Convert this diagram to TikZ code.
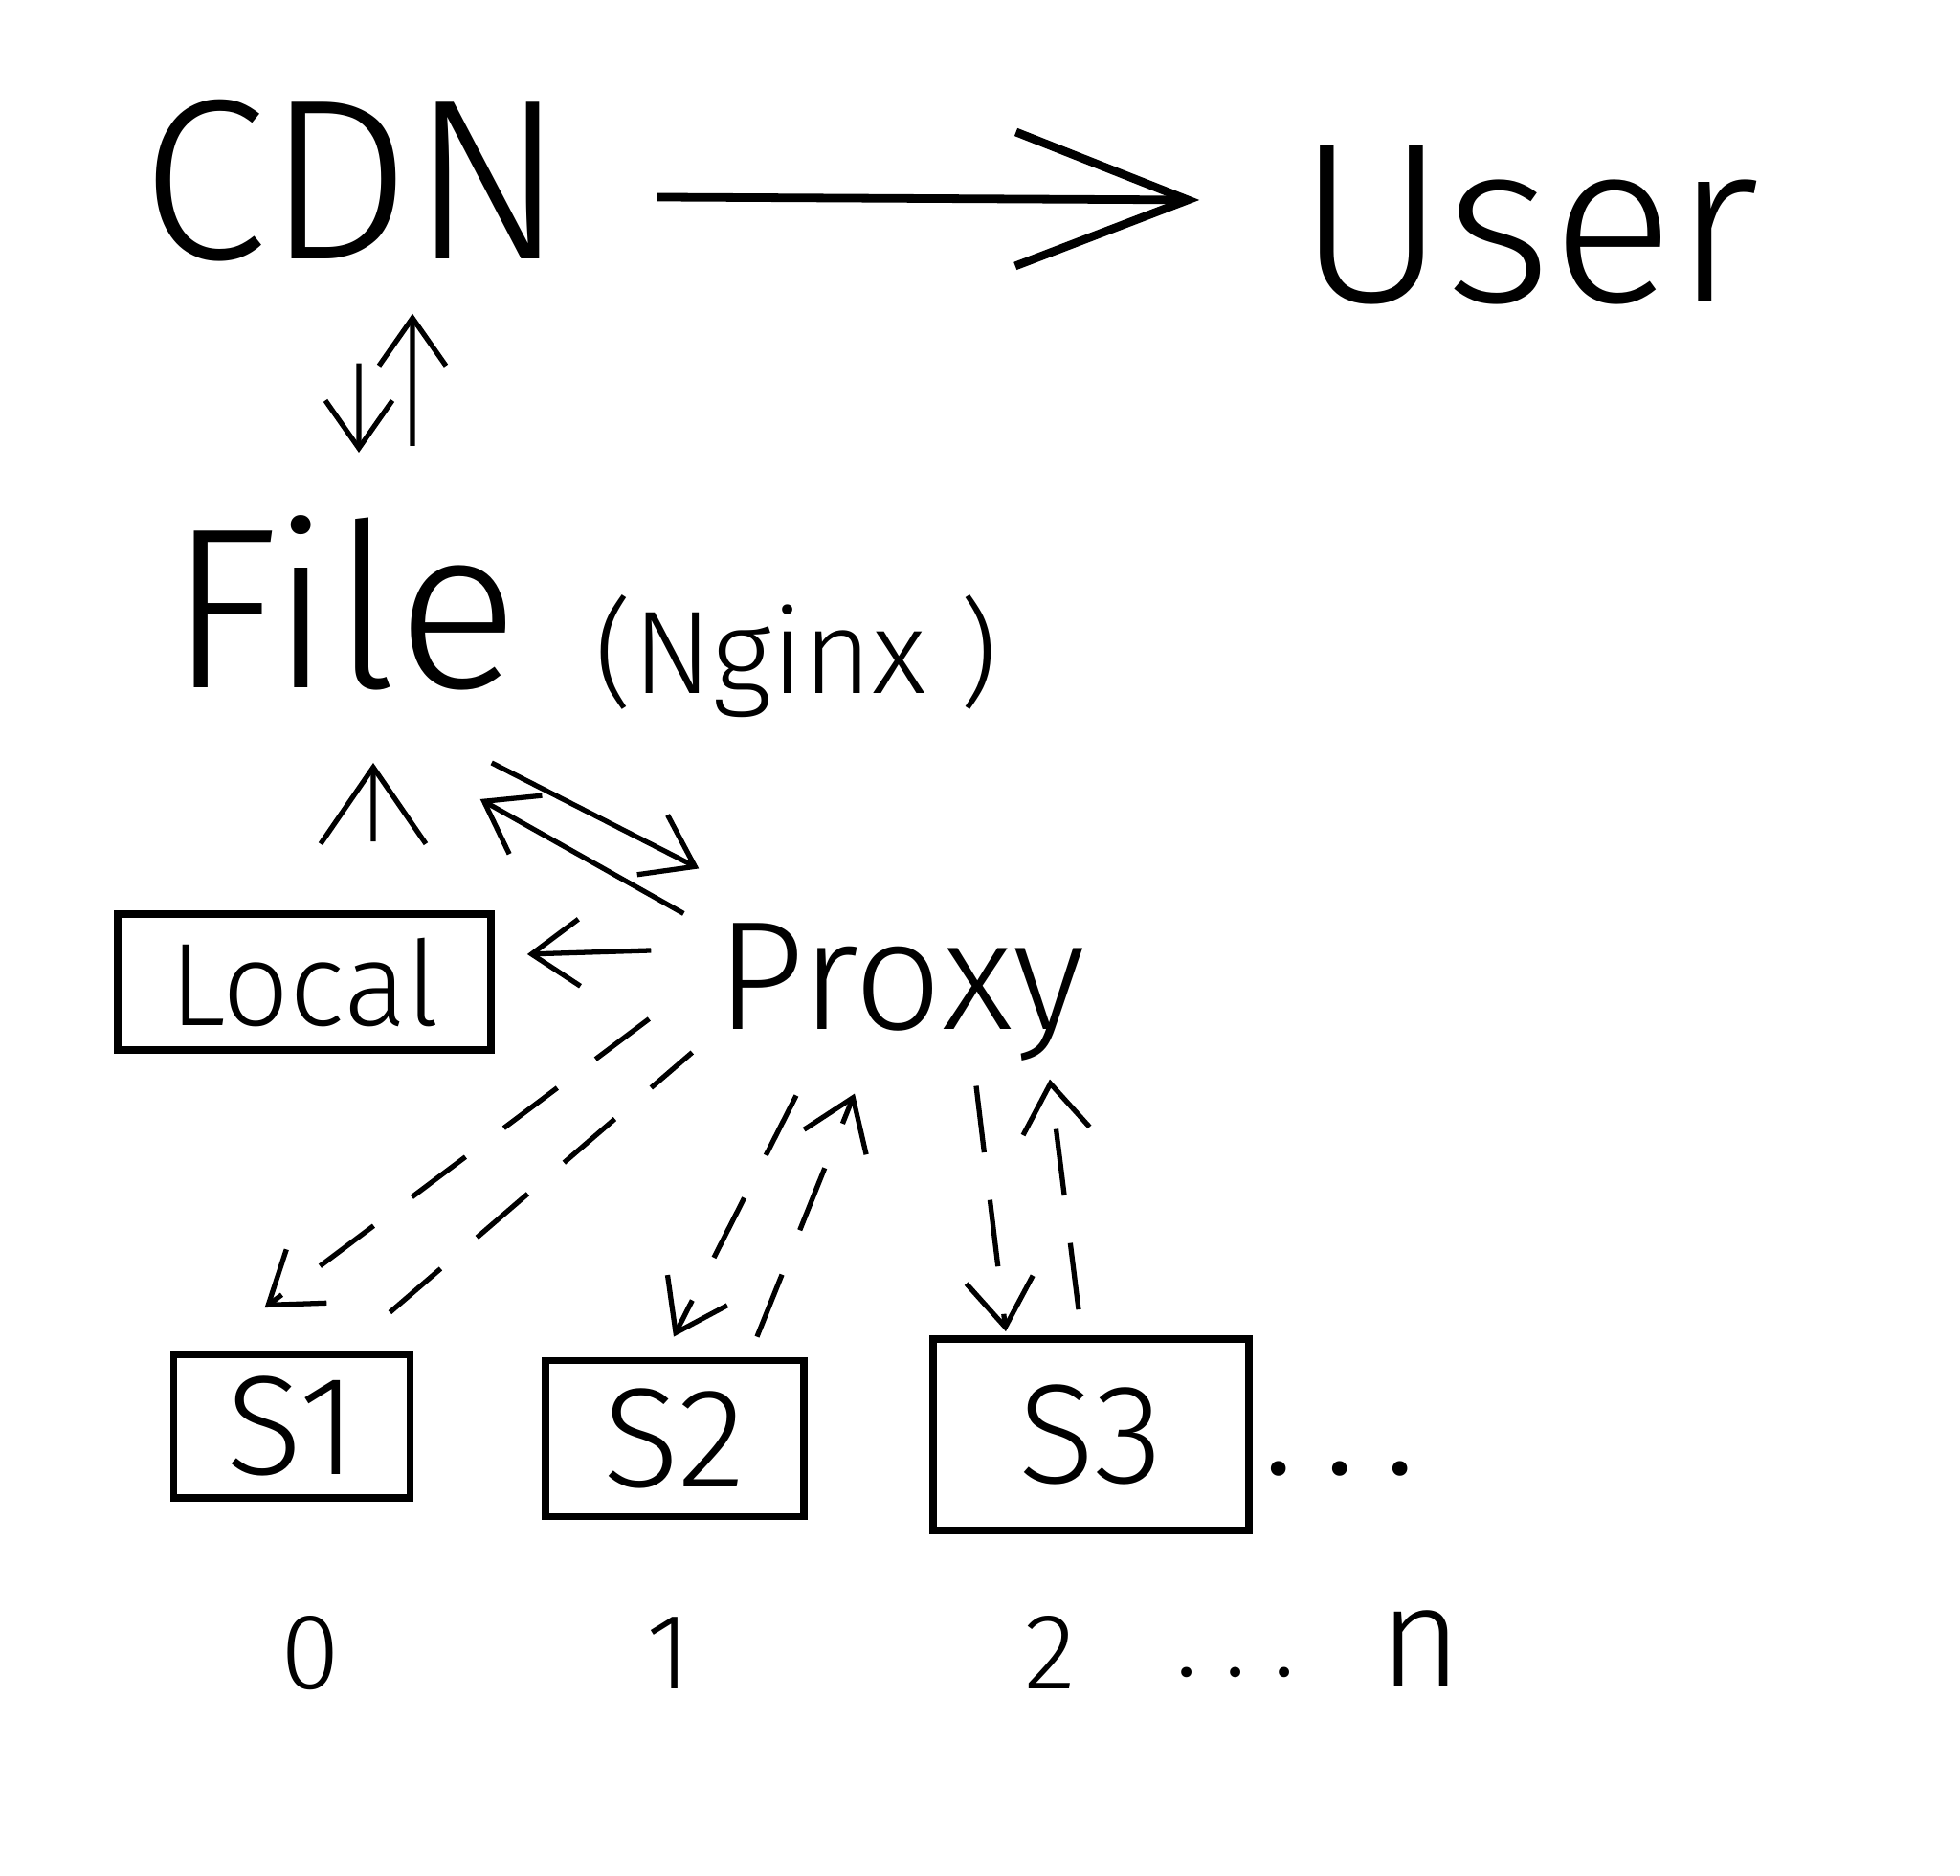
\documentclass[tikz,border=0pt]{standalone}
\usepackage{fontspec}
\setmainfont{Fira Sans Light}
\usetikzlibrary{arrows.meta,positioning}

\begin{document}
\begin{tikzpicture}[
  x=1cm,
  y=1cm,
  word/.style={inner sep=0pt, align=center},
  bigword/.style={word, font=\fontsize{68}{72}\selectfont},
  midword/.style={word, font=\fontsize{46}{50}\selectfont},
  smallword/.style={word, font=\fontsize{35}{40}\selectfont},
  idx/.style={word, anchor=base, font=\fontsize{32}{36}\selectfont},
  box/.style={draw, line width=2.2pt, inner sep=0pt},
  server/.style={box, font=\fontsize{42}{46}\selectfont},
  arrow/.style={-{Straight Barb[length=5mm,width=7mm]}, line width=1.5pt},
  bigarrow/.style={-{Straight Barb[length=8mm,width=11mm]}, line width=1.5pt},
  dashline/.style={line width=1.5pt, dash pattern=on 7mm off 5mm},
  dasharrow/.style={arrow, dash pattern=on 7mm off 5mm}
]
  \fill[white] (0,0) rectangle (20.48,19.60);
  \useasboundingbox (0,0) rectangle (20.48,19.60);

  % top row
  \node[bigword, minimum width=4.64cm, minimum height=1.8cm] (cdn) at (3.69,17.71) {CDN};
  \node[bigword, minimum width=4.9cm, minimum height=1.7cm] (user) at (15.97,17.25) {User};
  \draw[line width=2.5pt, -{Straight Barb[length=18mm,width=14mm]}]
    ([xshift=8.5mm,yshift=-1.7mm]cdn.east) -- ([xshift=-9.8mm,yshift=2.6mm]user.west);

  % file server
  \node[bigword, minimum width=3.66cm, minimum height=1.5cm] (file) at (3.59,13.30) {File};
  \node[smallword] (nginx) at (8.32,12.74) {(Nginx )};
  \draw[arrow] ([xshift=0.6mm,yshift=-10mm]cdn.south) -- ([xshift=1.6mm,yshift=6.5mm]file.north);
  \draw[arrow] ([xshift=7.2mm,yshift=7.2mm]file.north) -- ([xshift=6.2mm,yshift=-4.8mm]cdn.south);

  % proxy and local
  \node[box, smallword, minimum width=3.9cm, minimum height=1.42cm] (local) at (3.18,9.34) {Local};
  \node[midword, minimum width=4.14cm, minimum height=1.4cm] (proxy) at (9.41,9.23) {Proxy};
  \draw[bigarrow] ([xshift=7.2mm,yshift=7.2mm]local.north) -- ([xshift=3.1mm,yshift=-7.5mm]file.south);
  \draw[arrow] ([xshift=-1.9mm,yshift=1mm]proxy.north west) -- ([xshift=-4.1mm,yshift=-11.3mm]file.south east);
  \draw[arrow] ([xshift=-2.9mm,yshift=-7.5mm]file.south east) -- ([xshift=-0.3mm,yshift=5.7mm]proxy.north west);
  \draw[arrow] ([xshift=-5.3mm,yshift=4.4mm]proxy.west) -- ([xshift=3.4mm,yshift=2.9mm]local.east);

  % storage servers
  \node[server, minimum width=2.47cm, minimum height=1.5cm] (s1) at (3.05,4.70) {S1};
  \node[server, minimum width=2.7cm, minimum height=1.63cm] (s2) at (7.05,4.57) {S2};
  \node[server, minimum width=3.3cm, minimum height=2.0cm] (s3) at (11.40,4.61) {S3};
  \node[midword] (more) at (14.00,4.25) {.\kern3mm.\kern3mm.};

  \draw[dasharrow] ([xshift=-5.5mm,yshift=4.5mm]proxy.south west) -- ([xshift=9.9mm,yshift=4.5mm]s1.north west);
  \draw[dashline] ([xshift=-2.5mm,yshift=4mm]s1.north east) -- ([xshift=-1mm,yshift=1mm]proxy.south west);
  \draw[dasharrow] ([xshift=-10.9mm,yshift=-3.5mm]proxy.south) -- ([xshift=-0.1mm,yshift=2.1mm]s2.north);
  \draw[dasharrow] ([xshift=8.6mm,yshift=2.1mm]s2.north) -- ([xshift=-4.8mm,yshift=-3.3mm]proxy.south);
  \draw[dasharrow] ([xshift=7.9mm,yshift=-2.5mm]proxy.south) -- ([xshift=-8.9mm,yshift=0.4mm]s3.north);
  \draw[dasharrow] ([xshift=-1.3mm,yshift=2.7mm]s3.north) -- ([xshift=15.6mm,yshift=-1.8mm]proxy.south);

  % indices
  \node[idx] (n0) at (3.24,1.95) {0};
  \node[idx] (n1) at (6.99,1.95) {1};
  \node[idx] (n2) at (10.97,1.95) {2};
  \node[idx] (ndots) at (12.91,2.08) {.\kern2.8mm.\kern2.8mm.};
  \node[idx, font=\fontsize{42}{46}\selectfont] (nn) at (14.85,1.98) {n};
\end{tikzpicture}
\end{document}
